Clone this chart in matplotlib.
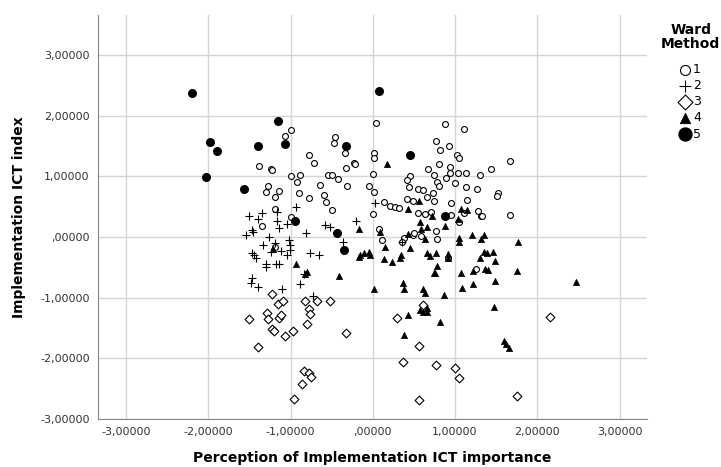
import matplotlib.pyplot as plt
from matplotlib.ticker import FuncFormatter
import numpy as np

# cluster 1 (open circles)
c1_x = [-1.07, -0.99, -0.77, -0.72, -1.38, -1.24, -1.22, -0.99, -0.89, -0.92, -1.27, -1.30, -1.14, -1.19,
        -0.90, -0.77, -0.64, -0.59, -0.57, -0.49, -0.54, -0.49, -0.42, -0.31, -0.46, -0.47, -0.34, -0.32,
        -0.23, -0.22, -1.19, -1.00, -1.35,
        0.04, 0.01, 0.02, 0.00, -0.05, 0.02, 0.00, 0.14, 0.21, 0.27, 0.07, 0.11,
        0.88, 1.11, 0.77, 0.82, 0.93, 1.02, 1.05, 0.81, 0.67, 0.94, 0.94, 1.04, 1.13, 1.30, 0.74, 0.89,
        0.45, 0.42, 0.44, 0.78, 0.80, 1.00, 1.13, 1.27, 0.55, 0.61, 0.73, 0.66, 0.74, 0.42, 0.49, 0.95,
        1.14, 0.32, 0.55, 0.63, 0.71, 0.95, 1.05, 1.11, 1.28, 1.32, 0.77, 0.49, 0.59, 0.38,
        1.67, 1.44, 1.52, 1.51, 1.33, 1.67,
        0.78, 0.91, 1.26, 0.50, 0.36, -1.19]
c1_y = [1.66, 1.77, 1.36, 1.22, 1.18, 1.12, 1.11, 1.00, 1.02, 0.91, 0.84, 0.74, 0.76, 0.66,
        0.73, 0.65, 0.86, 0.70, 0.58, 0.45, 1.02, 1.02, 0.96, 0.84, 1.65, 1.55, 1.39, 1.14,
        1.23, 1.21, 0.46, 0.33, 0.19,
        1.89, 1.39, 1.30, 1.04, 0.85, 0.74, 0.38, 0.58, 0.52, 0.50, 0.14, -0.05,
        1.86, 1.79, 1.58, 1.44, 1.50, 1.36, 1.31, 1.21, 1.12, 1.15, 1.05, 1.05, 1.06, 1.02, 1.02, 0.97,
        1.01, 0.94, 0.83, 0.91, 0.84, 0.89, 0.83, 0.79, 0.79, 0.78, 0.72, 0.66, 0.59, 0.63, 0.60, 0.57,
        0.61, 0.48, 0.40, 0.38, 0.42, 0.36, 0.24, 0.40, 0.43, 0.34, 0.10, 0.04, 0.02, -0.02,
        1.25, 1.12, 0.72, 0.67, 0.34, 0.37,
        -0.03, -0.34, -0.52, 0.06, -0.08, -0.17]

# cluster 2 (plus)
c2_x = [-1.50, -1.35, -1.40, -1.17, -1.16, -1.14, -1.04, -0.93, -0.81, -0.21, -1.26, -1.47, -1.54, -0.58,
        -0.52, -1.46, -1.33, -1.19, -1.02, -1.01, -1.01, -1.04, -1.11, -1.24, -1.47, -1.45, -1.42, -1.30,
        -1.30, -1.18, -1.14, -1.47, -1.48, -1.40, -1.10, -0.88, -0.84, -0.76, -0.65, -0.36, 0.03, 0.35, -0.73]
c2_y = [0.35, 0.40, 0.29, 0.42, 0.27, 0.15, 0.21, 0.50, 0.06, 0.27, 0.00, 0.12, 0.03, 0.20,
        0.17, 0.09, -0.13, -0.10, -0.05, -0.13, -0.21, -0.30, -0.23, -0.24, -0.26, -0.29, -0.35, -0.44,
        -0.50, -0.44, -0.44, -0.67, -0.76, -0.82, -0.85, -0.78, -0.61, -0.27, -0.30, -0.08, 0.57, -0.09, -0.98]

# cluster 3 (diamonds)
c3_x = [-1.51, -1.40, -1.29, -1.28, -1.22, -1.23, -1.20, -1.15, -1.09, -1.14, -1.11, -1.07, -0.97, -0.82,
        -0.78, -0.76, -0.80, -0.68, -0.52, -0.32, -0.84, -0.78, -0.75, -0.86, -0.96,
        0.29, 0.61, 0.56, 0.37, 0.77, 1.00, 1.05, 0.56, 1.75, 2.16]
c3_y = [-1.36, -1.81, -1.26, -1.36, -0.94, -1.52, -1.55, -1.11, -1.06, -1.33, -1.28, -1.64, -1.55, -1.05,
        -1.19, -1.27, -1.44, -1.06, -1.06, -1.58, -2.21, -2.25, -2.31, -2.43, -2.67,
        -1.33, -1.12, -1.80, -2.07, -2.11, -2.16, -2.32, -2.69, -2.63, -1.32]

# cluster 4 (filled triangles)
c4_x = [-1.21, -0.93, -0.80, -0.82, -0.41, -0.17, -0.17,
        0.17, 0.09, 0.43, 0.56, 0.57, 0.66, 0.59, 0.72, 0.88, 1.03, 1.07, 1.15, 0.43, 1.20, 1.35, 1.05,
        1.05, 1.32, 1.77, 0.64, 0.15, -0.15, -0.11, -0.05, -0.03, 0.13, 0.23, 0.33, 0.34, 0.45, 0.66,
        0.70, 0.77, 0.91, 0.92, 0.78, 0.74, 0.76, 0.37, 0.38, 0.01, 0.61, 0.63, 0.87, 1.07, 1.09, 1.22,
        1.22, 1.30, 1.35, 1.39, 1.46, 1.36, 1.40, 1.49, 1.48, 1.75, 2.47, 0.43, 0.57, 0.66, 0.66, 0.61,
        0.82, 0.38, 1.47, 1.59, 1.62, 1.65]
c4_y = [-0.19, -0.44, -0.57, -0.61, -0.64, -0.33, 0.13,
        1.21, 0.08, 0.46, 0.60, 0.25, 0.16, 0.13, 0.34, 0.19, 0.30, 0.47, 0.45, 0.05, 0.03, 0.03, -0.01,
        -0.09, -0.04, -0.09, -0.04, -0.17, -0.30, -0.27, -0.25, -0.29, -0.37, -0.42, -0.34, -0.29, -0.18, -0.27,
        -0.31, -0.26, -0.28, -0.34, -0.48, -0.59, -0.60, -0.76, -0.85, -0.85, -0.85, -0.92, -0.95, -0.60, -0.84, -0.77,
        -0.56, -0.34, -0.24, -0.26, -0.24, -0.52, -0.55, -0.40, -0.72, -0.56, -0.74, -1.29, -1.21, -1.23, -1.18, -1.23,
        -1.41, -1.61, -1.15, -1.71, -1.77, -1.83]

# cluster 5 (filled circles)
c5_x = [-2.20, -1.98, -1.89, -2.03, -1.57, -1.39, -1.15, -1.07, -0.32, -0.94, -0.44, 0.08, 0.45, 0.88, -0.35]
c5_y = [2.37, 1.57, 1.42, 0.99, 0.80, 1.51, 1.92, 1.54, 1.51, 0.27, 0.07, 2.41, 1.35, 0.34, -0.21]

ticks = [-3, -2, -1, 0, 1, 2, 3]


def fmt(v, pos):
    # SPSS style: comma decimal, no leading zero
    s = ("%.5f" % v).replace(".", ",")
    if s.startswith("0,"):
        s = s[1:]
    if s.startswith("-0,"):
        s = s[2:]
    return s


plt.rcParams['font.family'] = 'DejaVu Sans'

fig = plt.figure(figsize=(7.21, 4.67), dpi=100)
ax = fig.add_axes([0.136, 0.1034, 0.761, 0.865])

ax.scatter(c1_x, c1_y, s=18, marker='o', facecolor='white', edgecolor='black', linewidths=0.8, label='1', zorder=3)
ax.scatter(c2_x, c2_y, s=28, marker='+', color='black', linewidths=0.8, label='2', zorder=3)
ax.scatter(c3_x, c3_y, s=20, marker='D', facecolor='white', edgecolor='black', linewidths=0.8, label='3', zorder=3)
ax.scatter(c4_x, c4_y, s=20, marker='^', color='black', linewidths=0.5, label='4', zorder=3)
ax.scatter(c5_x, c5_y, s=30, marker='o', color='black', label='5', zorder=3)

ax.set_xlim(-3.34, 3.33)
ax.set_ylim(-3.0, 3.67)
ax.set_xticks(ticks)
ax.set_yticks(ticks)
ax.xaxis.set_major_formatter(FuncFormatter(fmt))
ax.yaxis.set_major_formatter(FuncFormatter(fmt))
ax.tick_params(length=0, labelsize=8, colors='#333333', pad=6)
ax.grid(True, color='#d4d4d4', linewidth=1.0)
ax.set_axisbelow(True)
for side in ['top', 'right']:
    ax.spines[side].set_visible(False)
for side in ['left', 'bottom']:
    ax.spines[side].set_color('#888888')

ax.set_xlabel("Perception of Implementation ICT importance", fontsize=10, fontweight='bold', labelpad=10)
ax.set_ylabel("Implementation ICT index", fontsize=10, fontweight='bold', labelpad=10)

fig.text(0.958, 0.95, "Ward\nMethod", ha='center', va='top', fontsize=10, fontweight='bold', linespacing=1.0)
leg = fig.legend(loc='upper left', bbox_to_anchor=(0.942, 0.865), frameon=False,
                 fontsize=9, handletextpad=0.1, labelspacing=0.25, markerscale=1.7,
                 borderaxespad=0, borderpad=0, handlelength=1.0)

fig.savefig("out.png", dpi=100)
